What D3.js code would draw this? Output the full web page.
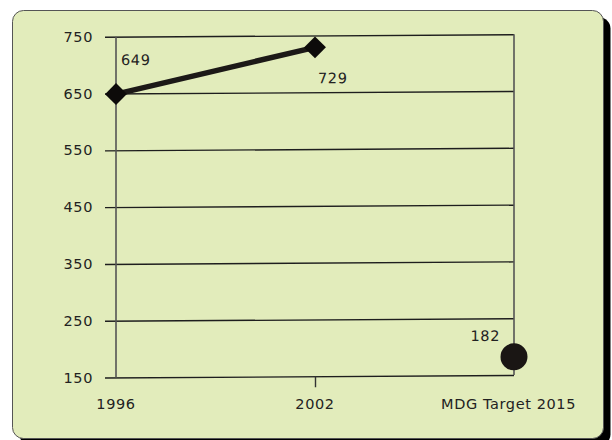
<!DOCTYPE html>
<html>
<head>
<meta charset="utf-8">
<script src="https://cdn.jsdelivr.net/npm/d3@7"></script>
<style>
  html, body { margin: 0; padding: 0; background: #ffffff; }
  svg { display: block; }
  text { font-family: "DejaVu Sans", sans-serif; fill: #222; }
</style>
</head>
<body>
<script>
// Categories along the bottom axis
const categories = ["1996", "2002", "MDG Target 2015"];
// Observed series (joined by a line, diamond markers)
const observedYears = ["1996", "2002"];
const observedValues = [649, 729];
// Target series (single round marker)
const targetCategory = ["MDG Target 2015"];
const targetValues = [182];
// Value axis ticks
const yTicks = [150, 250, 350, 450, 550, 650, 750];

const W = 612, H = 440;
const svg = d3.select("body").append("svg").attr("width", W).attr("height", H);

// Panel with drop shadow
const panel = { x: 12.5, y: 10.5, w: 591, h: 428, r: 11 };
svg.append("rect")
  .attr("x", panel.x + 7).attr("y", panel.y + 7)
  .attr("width", panel.w).attr("height", panel.h)
  .attr("rx", panel.r).attr("fill", "#000");
svg.append("rect")
  .attr("x", panel.x).attr("y", panel.y)
  .attr("width", panel.w).attr("height", panel.h)
  .attr("rx", panel.r).attr("fill", "#e2ecbb")
  .attr("stroke", "#555").attr("stroke-width", 1);

// Scales
const x = d3.scalePoint().domain(categories).range([116, 514]);
const y = d3.scaleLinear().domain([150, 750]).range([377.5, 36.7]);

// Plot group, slightly sheared like the original drawing
const x0 = x(categories[0]);
const g = svg.append("g")
  .attr("transform", `translate(${x0},0) skewY(-0.36) translate(${-x0},0)`);

// Horizontal grid lines plus the left tick marks
const yAxis = d3.axisLeft(y).tickValues(yTicks)
  .tickSize(-(x.range()[1] - x.range()[0]))
  .tickSizeOuter(0).tickFormat("");
const ya = g.append("g").attr("transform", `translate(${x0},0)`).call(yAxis);
ya.select(".domain").remove();
ya.selectAll(".tick line")
  .attr("x1", -11)
  .attr("stroke", "#1e1e1e").attr("stroke-width", 1.4);

// Vertical lines at the first and last category
g.selectAll("line.vline")
  .data([categories[0], categories[categories.length - 1]])
  .join("line").attr("class", "vline")
  .attr("x1", d => x(d)).attr("x2", d => x(d))
  .attr("y1", y(750)).attr("y2", y(150))
  .attr("stroke", "#555").attr("stroke-width", 1.6);

// Bottom category ticks
const xAxis = d3.axisBottom(x).tickSize(11).tickSizeOuter(0).tickFormat("");
const xa = g.append("g").attr("transform", `translate(0,${y(150)})`).call(xAxis);
xa.select(".domain").remove();
xa.selectAll(".tick line").attr("stroke", "#333").attr("stroke-width", 1.4)
  .attr("display", d => d === categories[1] ? null : "none");

// Series line
const line = d3.line().x(d => x(d[0])).y(d => y(d[1]));
const obs = observedYears.map((c, i) => [c, observedValues[i]]);
g.append("path").datum(obs)
  .attr("d", line).attr("fill", "none")
  .attr("stroke", "#1c1917").attr("stroke-width", 5.5)
  .attr("stroke-linejoin", "round");

// Diamond markers
g.selectAll("path.diamond").data(obs).join("path")
  .attr("class", "diamond")
  .attr("d", d3.symbol().type(d3.symbolSquare).size(240))
  .attr("transform", d => `translate(${x(d[0])},${y(d[1])}) rotate(45)`)
  .attr("fill", "#0d0b0a");

// Target marker
const tgt = targetCategory.map((c, i) => [c, targetValues[i]]);
g.selectAll("circle.target").data(tgt).join("circle")
  .attr("class", "target")
  .attr("cx", d => x(d[0])).attr("cy", d => y(d[1])).attr("r", 13.5)
  .attr("fill", "#1a1614");

// Value labels
const fs = 14.5, ls = 0.6;
const lbl = (sel) => sel.attr("font-size", fs).attr("letter-spacing", ls);
lbl(g.append("text").text(observedValues[0])
  .attr("x", x(obs[0][0]) + 5).attr("y", y(obs[0][1]) - 29));
lbl(g.append("text").text(observedValues[1])
  .attr("x", x(obs[1][0]) + 3).attr("y", y(obs[1][1]) + 36));
lbl(g.append("text").text(targetValues[0])
  .attr("text-anchor", "end")
  .attr("x", x(tgt[0][0]) - 14).attr("y", y(tgt[0][1]) - 16));

// Y tick labels
svg.selectAll("text.ylab").data(yTicks).join("text")
  .attr("class", "ylab")
  .attr("x", 93).attr("y", d => y(d)).attr("dy", "0.35em")
  .attr("text-anchor", "end")
  .call(lbl).text(d => d);

// Category labels, kept inside the panel
const clabs = svg.selectAll("text.xlab").data(categories).join("text")
  .attr("class", "xlab")
  .attr("x", d => x(d)).attr("y", 409)
  .attr("text-anchor", "middle")
  .call(lbl).text(d => d);
clabs.each(function () {
  const b = this.getBBox();
  const maxRight = 576;
  if (b.x + b.width > maxRight) {
    d3.select(this).attr("x", +d3.select(this).attr("x") - (b.x + b.width - maxRight));
  }
});
</script>
</body>
</html>
